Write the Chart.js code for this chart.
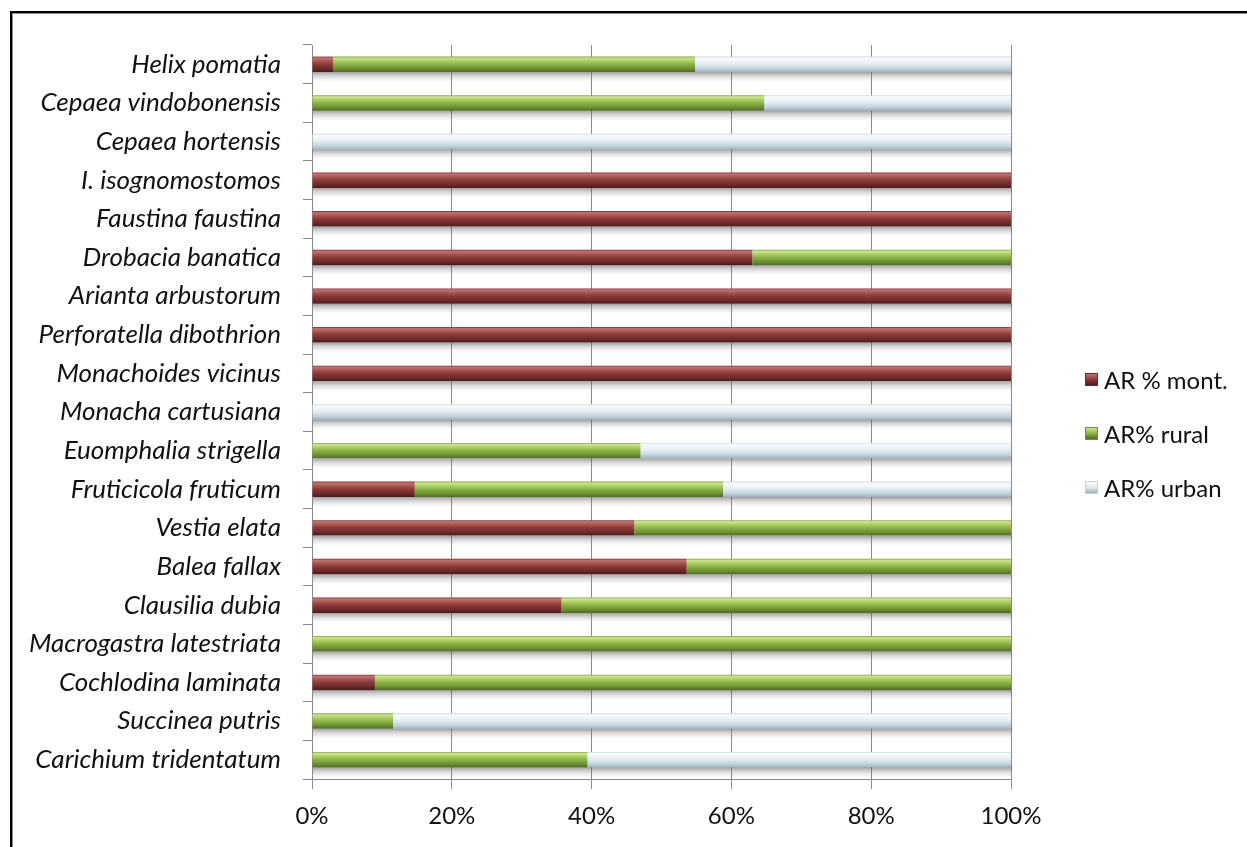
<!DOCTYPE html>
<html>
<head>
<meta charset="utf-8">
<title>AR % by habitat</title>
<script src="https://cdn.jsdelivr.net/npm/chart.js@4.4.1/dist/chart.umd.min.js"></script>
<style>
  html, body { margin: 0; padding: 0; background: #fff; overflow: hidden; }
  #frame {
    position: absolute; left: 10px; top: 11px; width: 1300px; height: 900px;
    border: 2px solid #000; box-shadow: inset 1px 1px 0 #8c8c8c;
  }
  #wrap { position: absolute; left: 0; top: 0; width: 1247px; height: 847px; }
  #legend { position: absolute; left: 1085px; top: 365px; font-family: Lato, sans-serif; font-size: 24px; color: #111; }
  .item { display: flex; align-items: center; height: 28px; margin-bottom: 26px; white-space: nowrap; }
  .swatch { width: 13px; height: 13px; margin-right: 6px; box-sizing: border-box; }
</style>
</head>
<body>
<div id="frame"></div>
<div id="wrap"><canvas id="arChart" width="1247" height="847"></canvas></div>
<div id="legend"></div>
<script>
// species, top to bottom
const species = [
  'Helix pomatia', 'Cepaea vindobonensis', 'Cepaea hortensis', 'I. isognomostomos',
  'Faustina faustina', 'Drobacia banatica', 'Arianta arbustorum', 'Perforatella dibothrion',
  'Monachoides vicinus', 'Monacha cartusiana', 'Euomphalia strigella', 'Fruticicola fruticum',
  'Vestia elata', 'Balea fallax', 'Clausilia dubia', 'Macrogastra latestriata',
  'Cochlodina laminata', 'Succinea putris', 'Carichium tridentatum'
];

// share of each habitat type (%)
const montane = [3, 0, 0, 100, 100, 63, 100, 100, 100, 0, 0, 14.7, 46.1, 53.6, 35.7, 0, 9, 0, 0];
const rural   = [51.8, 64.7, 0, 0, 0, 37, 0, 0, 0, 0, 47, 44.1, 53.9, 46.4, 64.3, 100, 91, 11.6, 39.4];
const urban   = [45.2, 35.3, 100, 0, 0, 0, 0, 0, 0, 100, 53, 41.2, 0, 0, 0, 0, 0, 88.4, 60.6];

const seriesNames = ['AR % mont.', 'AR% rural', 'AR% urban'];
const xTicks = [0, 20, 40, 60, 80, 100];

const BAR_PCT = 0.4;
const axisGray = '#8a8a8a';

// top-to-bottom shading so the bars look rounded
const shades = {
  mont:  [[0, '#7a2f2e'], [0.1, '#c07472'], [0.3, '#a65452'], [0.5, '#8b3a39'], [0.78, '#6c2a29'], [1, '#4b1a1a']],
  rural: [[0, '#7f9f3e'], [0.1, '#cbe592'], [0.3, '#abcd64'], [0.5, '#8db347'], [0.78, '#6e9033'], [1, '#506a25']],
  urban: [[0, '#c9d8e0'], [0.1, '#f8fbfd'], [0.3, '#eef4f7'], [0.5, '#e0eaef'], [0.78, '#c3d3dc'], [1, '#9db1bc']]
};

function barHalf(chart) {
  const y = chart.scales.y;
  return (y.height / species.length) * BAR_PCT / 2;
}

function barFill(stops) {
  return (c) => {
    const chart = c.chart;
    const y = chart.scales && chart.scales.y;
    const flat = stops[3][1];
    if (!y || c.dataIndex === undefined) return flat;
    const center = y.getPixelForValue(c.dataIndex);
    const half = barHalf(chart);
    if (!isFinite(center) || !isFinite(half) || half <= 0) return flat;
    const g = chart.ctx.createLinearGradient(0, center - half, 0, center + half);
    stops.forEach(([o, col]) => g.addColorStop(o, col));
    return g;
  };
}

// grey shadow under each stacked bar, placed with the chart's scales
function drawShadows(chart) {
  const ctx = chart.ctx;
  const xs = chart.scales.x, ys = chart.scales.y;
  const half = barHalf(chart);
  const series = chart.data.datasets.map(d => d.data);
  ctx.save();
  species.forEach((_, i) => {
    const total = series.reduce((s, d) => s + (d[i] || 0), 0);
    if (total <= 0) return;
    const x0 = xs.getPixelForValue(0);
    const x1 = xs.getPixelForValue(total);
    const bottom = ys.getPixelForValue(i) + half;
    const g = ctx.createLinearGradient(0, bottom, 0, bottom + 10);
    g.addColorStop(0, 'rgba(80,80,80,0.55)');
    g.addColorStop(0.4, 'rgba(110,110,110,0.28)');
    g.addColorStop(1, 'rgba(160,160,160,0)');
    ctx.fillStyle = g;
    ctx.fillRect(x0 + 1, bottom, x1 - x0, 10);
  });
  ctx.restore();
}

let shadowsDrawn = false;
Chart.register({
  id: 'barShadow',
  afterDatasetsDraw(chart) {
    drawShadows(chart);
    shadowsDrawn = true;
  }
});

const chart = new Chart(document.getElementById('arChart').getContext('2d'), {
  type: 'bar',
  data: {
    labels: species,
    datasets: [
      { label: seriesNames[0], data: montane, backgroundColor: barFill(shades.mont), swatch: shades.mont },
      { label: seriesNames[1], data: rural, backgroundColor: barFill(shades.rural), swatch: shades.rural },
      { label: seriesNames[2], data: urban, backgroundColor: barFill(shades.urban), swatch: shades.urban }
    ]
  },
  options: {
    indexAxis: 'y',
    responsive: false,
    animation: false,
    datasets: { bar: { categoryPercentage: 1, barPercentage: BAR_PCT, borderWidth: 0 } },
    layout: { padding: { top: 45, right: 236, left: 0, bottom: 0 } },
    plugins: {
      legend: { display: false },
      tooltip: { enabled: false }
    },
    scales: {
      x: {
        stacked: true,
        min: 0,
        max: 100,
        afterBuildTicks: (scale) => { scale.ticks = xTicks.map(v => ({ value: v })); },
        afterFit: (scale) => { scale.height = 68; },
        ticks: {
          callback: (v) => v + '%',
          color: '#111',
          padding: 13,
          font: { family: 'Lato', size: 24 }
        },
        grid: { color: axisGray, lineWidth: 1, tickLength: 10 },
        border: { color: axisGray }
      },
      y: {
        stacked: true,
        afterFit: (scale) => { scale.width = 312; },
        ticks: {
          color: '#111',
          padding: 22,
          autoSkip: false,
          font: { family: 'Lato', size: 26, style: 'italic' }
        },
        grid: { drawOnChartArea: false, offset: true, tickLength: 9, color: axisGray },
        border: { color: axisGray }
      }
    }
  }
});

// first paint may have happened without the hook
if (!shadowsDrawn) drawShadows(chart);

// legend beside the plot
const legend = document.getElementById('legend');
chart.data.datasets.forEach((ds) => {
  const row = document.createElement('div');
  row.className = 'item';
  const sw = document.createElement('span');
  sw.className = 'swatch';
  const s = ds.swatch;
  sw.style.background = 'linear-gradient(180deg,' + s[1][1] + ' 0%,' + s[3][1] + ' 50%,' + s[5][1] + ' 100%)';
  sw.style.border = '1px solid ' + s[4][1];
  const txt = document.createElement('span');
  txt.textContent = ds.label;
  row.appendChild(sw);
  row.appendChild(txt);
  legend.appendChild(row);
});
</script>
</body>
</html>
